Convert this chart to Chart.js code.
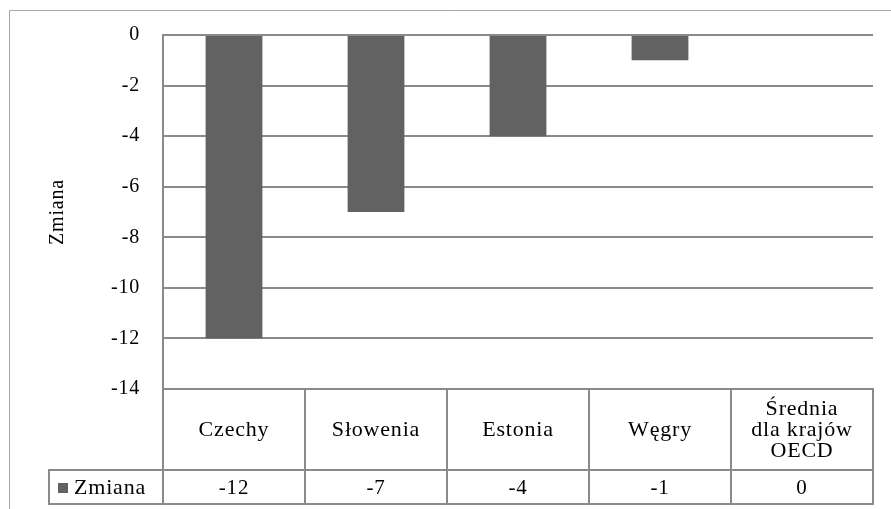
<!DOCTYPE html>
<html>
<head>
<meta charset="utf-8">
<script src="https://cdn.jsdelivr.net/npm/chart.js@4/dist/chart.umd.min.js"></script>
<style>
  html, body { margin: 0; padding: 0; background: #ffffff; }
  canvas { display: block; }
</style>
</head>
<body>
<canvas id="chart" width="891" height="509"></canvas>
<script>
// Categories (multi-line where the label wraps in the table header)
const categories = [
  ['Czechy'],
  ['Słowenia'],
  ['Estonia'],
  ['Węgry'],
  ['Średnia', 'dla krajów', 'OECD']
];
const seriesName = 'Zmiana';
const values = [-12, -7, -4, -1, 0];
const yTicks = { min: -14, max: 0, step: 2 };

// Styling
const FONT = '"Liberation Serif", "Times New Roman", serif';
const BAR_COLOR = '#626262';
const GRID_COLOR = '#8a8a8a';
const FRAME_COLOR = '#a8a8a8';
const TEXT_SPACING = '0.8px';

// Layout of the data table under the plot
const TABLE = {
  headerRow: 81,   // height of the category row
  valueRow: 34,    // height of the value row
  seriesLeft: 49   // left edge of the series-name cell
};

// Slightly wider text, in the style of the source document
const textSpacing = {
  id: 'textSpacing',
  beforeUpdate(chart) { chart.ctx.letterSpacing = TEXT_SPACING; },
  beforeDraw(chart) { chart.ctx.letterSpacing = TEXT_SPACING; }
};

// Outer frame plus the value row of the data table and its legend key
const dataTable = {
  id: 'dataTable',
  afterDraw(chart) {
    const ctx = chart.ctx;
    const xs = chart.scales.x;
    const area = chart.chartArea;
    const rowTop = area.bottom + TABLE.headerRow;
    const rowBottom = rowTop + TABLE.valueRow;

    ctx.save();
    ctx.letterSpacing = TEXT_SPACING;

    // outer frame (top and left edges)
    ctx.strokeStyle = FRAME_COLOR;
    ctx.lineWidth = 1;
    ctx.beginPath();
    ctx.moveTo(9.5, chart.height);
    ctx.lineTo(9.5, 10.5);
    ctx.lineTo(chart.width, 10.5);
    ctx.stroke();

    // value row borders
    ctx.strokeStyle = GRID_COLOR;
    ctx.lineWidth = 2;
    ctx.beginPath();
    ctx.moveTo(TABLE.seriesLeft, rowTop);
    ctx.lineTo(area.right + 1, rowTop);
    ctx.moveTo(TABLE.seriesLeft, rowBottom);
    ctx.lineTo(area.right + 1, rowBottom);
    ctx.moveTo(TABLE.seriesLeft, rowTop - 1);
    ctx.lineTo(TABLE.seriesLeft, rowBottom + 1);
    ctx.stroke();

    // values
    ctx.fillStyle = '#000000';
    ctx.font = '21px ' + FONT;
    ctx.textAlign = 'center';
    ctx.textBaseline = 'middle';
    const midY = (rowTop + rowBottom) / 2 + 1;
    values.forEach((v, i) => {
      ctx.fillText(String(v), xs.getPixelForValue(i), midY);
    });

    // legend key and series name
    ctx.fillStyle = BAR_COLOR;
    ctx.fillRect(58, midY - 5, 10, 10);
    ctx.fillStyle = '#000000';
    ctx.textAlign = 'left';
    ctx.font = '22px ' + FONT;
    ctx.fillText(seriesName, 74, midY);
    ctx.restore();
  }
};

new Chart(document.getElementById('chart'), {
  type: 'bar',
  data: {
    labels: categories,
    datasets: [{
      label: seriesName,
      data: values,
      backgroundColor: BAR_COLOR,
      borderWidth: 0,
      categoryPercentage: 1.0,
      barPercentage: 0.4
    }]
  },
  options: {
    responsive: false,
    animation: false,
    devicePixelRatio: 1,
    layout: { padding: { top: 34, right: 18, left: 0, bottom: 0 } },
    plugins: {
      legend: { display: false },
      tooltip: { enabled: false },
      title: { display: false }
    },
    scales: {
      x: {
        offset: true,
        grid: {
          offset: true,
          drawOnChartArea: false,
          drawTicks: true,
          tickLength: TABLE.headerRow + TABLE.valueRow,
          color: GRID_COLOR,
          lineWidth: 2
        },
        border: { display: true, color: GRID_COLOR, width: 2 },
        ticks: {
          autoSkip: false,
          minRotation: 0,
          maxRotation: 0,
          crossAlign: 'center',
          padding: -95,
          color: '#000000',
          font: { family: FONT, size: 22, lineHeight: 0.96 }
        },
        afterFit(scale) { scale.height = TABLE.headerRow + TABLE.valueRow + 5; }
      },
      y: {
        min: yTicks.min,
        max: yTicks.max,
        grid: { color: GRID_COLOR, lineWidth: 2, drawTicks: false },
        border: { display: true, color: GRID_COLOR, width: 2 },
        ticks: {
          stepSize: yTicks.step,
          padding: 23,
          color: '#000000',
          font: { family: FONT, size: 20 }
        },
        title: {
          display: true,
          text: seriesName,
          color: '#000000',
          font: { family: FONT, size: 20, lineHeight: 1.2 },
          padding: { top: 46, bottom: 0 }
        },
        afterFit(scale) { scale.width = 163; }
      }
    }
  },
  plugins: [textSpacing, dataTable]
});
</script>
</body>
</html>
